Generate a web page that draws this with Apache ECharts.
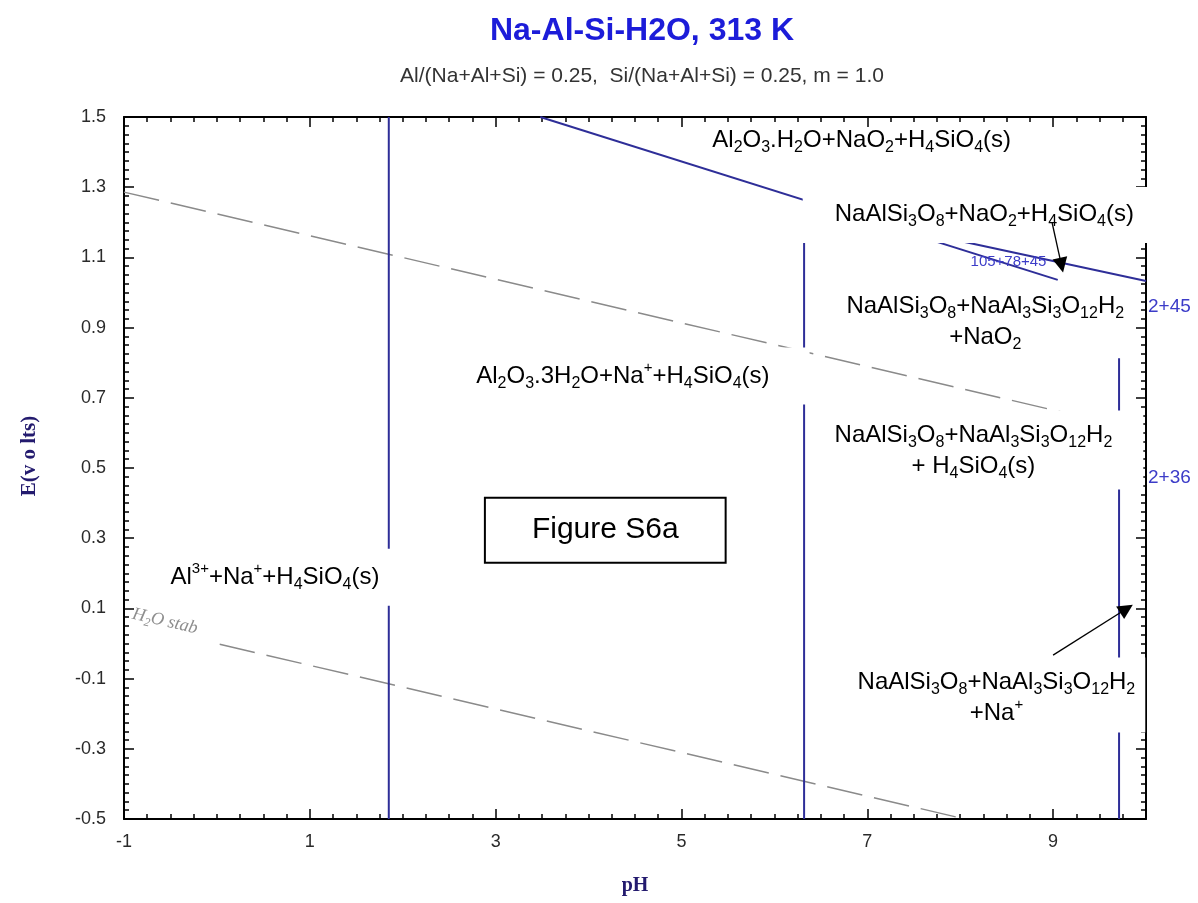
<!DOCTYPE html>
<html>
<head>
<meta charset="utf-8">
<title>Na-Al-Si-H2O, 313 K</title>
<script src="https://cdn.jsdelivr.net/npm/echarts@6/dist/echarts.min.js"></script>
<style>
  html, body { margin: 0; padding: 0; background: #fff; }
  #chart { width: 1198px; height: 903px; }
</style>
</head>
<body>
<div id="chart"></div>
<script>
// phase boundaries, [pH, E volts]
const bdyAl3 = [[1.85, -0.5], [1.85, 1.5]]
const bdyGibbsite = [[6.32, -0.5], [6.32, 1.263]]
const bdyAnalcime = [[9.71, -0.5], [9.71, 0.813]]
const bdyNaO2Upper = [[3.48, 1.5], [9.05, 1.036]]
const bdyNaO2Lower = [[6.75, 1.218], [10, 1.033]]
// water stability lines
const waterO2 = [[-1, 1.286], [10, 0.603]]
const waterH2 = [[0.03, -0.002], [8.05, -0.5]]
// arrows [tail, head]
const arrowTop = [[8.99, 1.198], [9.09, 1.078]]
const arrowBottom = [[9.0, -0.033], [9.79, 0.099]]

const xLabelTicks = [-1, 1, 3, 5, 7, 9]
const yLabelTicks = [-0.5, -0.3, -0.1, 0.1, 0.3, 0.5, 0.7, 0.9, 1.1, 1.3, 1.5]

const SANS = "'Liberation Sans', Arial, Helvetica, sans-serif"
const SERIF = "'Liberation Serif', 'Times New Roman', serif"
const BLUE = '#2e2e98'

// 'O_12' -> subscript, 'Na^{+}' -> superscript
function chem(s) {
  return s.replace(/_(\d+)/g, '{b|$1}').replace(/\^\{([^}]*)\}/g, '{p|$1}')
}

function richFor(size, color, family) {
  return {
    b: { fontFamily: family, fontSize: Math.round(size * 0.68), color: color, verticalAlign: 'bottom', lineHeight: Math.round(size * 0.78) },
    p: { fontFamily: family, fontSize: Math.round(size * 0.64), color: color, verticalAlign: 'top', lineHeight: Math.round(size * 0.64) }
  }
}

function note(at, text, extra) {
  const size = (extra && extra.fontSize) || 24
  const color = (extra && extra.color) || '#000'
  const family = (extra && extra.fontFamily) || SANS
  return {
    value: at,
    label: Object.assign({
      show: true,
      position: 'inside',
      align: 'center',
      formatter: chem(text),
      fontFamily: family,
      fontSize: size,
      lineHeight: Math.round(size * 1.3),
      color: color,
      opacity: 1,
      rich: richFor(size, color, family)
    }, extra || {})
  }
}

const notes = [
  note([6.94, 1.434], 'Al_2O_3.H_2O+NaO_2+H_4SiO_4(s)'),
  note([8.19, 1.221], 'NaAlSi_3O_8+NaO_2+H_4SiO_4(s)', { backgroundColor: '#fff', padding: [12, 19, 13, 32] }),
  note([8.27, 0.916], 'NaAlSi_3O_8+NaAl_3Si_3O_12H_2\n+NaO_2'),
  note([4.37, 0.762], 'Al_2O_3.3H_2O+Na^{+}+H_4SiO_4(s)', { backgroundColor: '#fff', padding: [13, 40, 13, 40] }),
  note([8.175, 0.551], 'NaAlSi_3O_8+NaAl_3Si_3O_12H_2\n+ H_4SiO_4(s)', { backgroundColor: '#fff', padding: [9, 31, 8, 25] }),
  note([8.39, -0.147], 'NaAlSi_3O_8+NaAl_3Si_3O_12H_2\n+Na^{+}', { backgroundColor: '#fff', padding: [9, 10, 4, 10] }),
  note([0.625, 0.189], 'Al^{3+}+Na^{+}+H_4SiO_4(s)', { backgroundColor: '#fff', padding: [13, 14, 13, 14] }),
  note([4.18, 0.323], 'Figure S6a', { fontSize: 30, backgroundColor: '#fff', borderColor: '#000', borderWidth: 2, padding: [12, 46, 12, 46] }),
  note([8.52, 1.087], '105+78+45', { fontSize: 15, color: '#3c3cc8' }),
  note([10, 0.959], '2+45', { fontSize: 19, color: '#3c3cc8', position: 'right', distance: 2, align: 'left' }),
  note([10, 0.472], '2+36', { fontSize: 19, color: '#3c3cc8', position: 'right', distance: 2, align: 'left' }),
  note([-0.56, 0.063], 'H_2O stab', { fontSize: 18, color: '#8e8e8e', fontStyle: 'italic', fontFamily: SERIF, rotate: -13 })
]

function boundary(data) {
  return {
    type: 'line',
    data: data,
    symbol: 'none',
    silent: true,
    z: 2,
    lineStyle: { color: BLUE, width: 2 }
  }
}

function waterLine(data) {
  return {
    type: 'line',
    data: data,
    symbol: 'none',
    silent: true,
    z: 1,
    lineStyle: { color: '#8a8a8a', width: 1.5, type: [36, 12] }
  }
}

const tickStyle = { color: '#000', width: 1.5 }

function xAxisPart(pos, interval, major) {
  return {
    type: 'value',
    position: pos,
    min: -1,
    max: 10,
    interval: interval,
    axisLine: { show: major, onZero: false, lineStyle: { color: '#000', width: 2 } },
    axisTick: { inside: true, length: major ? 10 : 5, lineStyle: tickStyle },
    axisLabel: { show: false },
    splitLine: { show: false }
  }
}

const chart = echarts.init(document.getElementById('chart'))

const xMain = xAxisPart('bottom', 2, true)
xMain.axisLabel = {
  show: true,
  margin: 14,
  fontFamily: SANS,
  fontSize: 18,
  color: '#2a2a2a',
  formatter: v => (xLabelTicks.indexOf(v) >= 0 ? String(v) : '')
}
xMain.name = 'pH'
xMain.nameLocation = 'middle'
xMain.nameGap = 57
xMain.nameTextStyle = { fontFamily: SERIF, fontWeight: 'bold', fontSize: 20, color: '#231a6e' }

function yAxisPart(pos, labels) {
  return {
    type: 'value',
    position: pos,
    min: -0.5,
    max: 1.5,
    interval: 0.2,
    axisLine: { show: true, onZero: false, lineStyle: { color: '#000', width: 2 } },
    axisTick: { inside: true, length: 10, lineStyle: tickStyle },
    minorTick: { show: true, splitNumber: 8, length: 5, lineStyle: tickStyle },
    axisLabel: labels ? {
      margin: 18,
      fontFamily: SANS,
      fontSize: 18,
      color: '#2a2a2a',
      formatter: v => {
        const t = yLabelTicks.find(k => Math.abs(k - v) < 1e-6)
        return t === undefined ? '' : t.toFixed(1)
      }
    } : { show: false },
    splitLine: { show: false }
  }
}

const yLeft = yAxisPart('left', true)
yLeft.name = 'E(v o lts)'
yLeft.nameLocation = 'middle'
yLeft.nameGap = 84
yLeft.nameRotate = 90
yLeft.nameTextStyle = { fontFamily: SERIF, fontWeight: 'bold', fontSize: 21, color: '#231a6e', padding: [0, 0, 0, 24] }

chart.setOption({
  animation: false,
  title: [
    {
      text: 'Na-Al-Si-H2O, 313 K',
      left: 637,
      top: 10,
      textAlign: 'center',
      textStyle: { fontFamily: SANS, fontWeight: 'bold', fontSize: 32, color: '#1c1cd9' }
    },
    {
      text: 'Al/(Na+Al+Si) = 0.25,  Si/(Na+Al+Si) = 0.25, m = 1.0',
      left: 637,
      top: 61,
      textAlign: 'center',
      textStyle: { fontFamily: SANS, fontWeight: 'normal', fontSize: 21, color: '#333' }
    }
  ],
  grid: { left: 124, right: 52, top: 117, bottom: 84, containLabel: false, outerBoundsMode: 'none' },
  xAxis: [
    xMain,
    xAxisPart('bottom', 0.25, false),
    xAxisPart('top', 2, true),
    xAxisPart('top', 0.25, false)
  ],
  yAxis: [yLeft, yAxisPart('right', false)],
  series: [
    waterLine(waterO2),
    waterLine(waterH2),
    boundary(bdyAl3),
    boundary(bdyGibbsite),
    boundary(bdyAnalcime),
    boundary(bdyNaO2Upper),
    boundary(bdyNaO2Lower),
    {
      type: 'scatter',
      symbolSize: 0,
      silent: true,
      clip: false,
      z: 5,
      itemStyle: { opacity: 1 },
      data: notes
    },
    {
      type: 'lines',
      coordinateSystem: 'cartesian2d',
      silent: true,
      z: 8,
      symbol: ['none', 'triangle'],
      symbolSize: 15,
      lineStyle: { color: '#000', width: 1.3, opacity: 1 },
      itemStyle: { color: '#000' },
      data: [{ coords: arrowTop }, { coords: arrowBottom }]
    }
  ]
})
</script>
</body>
</html>
